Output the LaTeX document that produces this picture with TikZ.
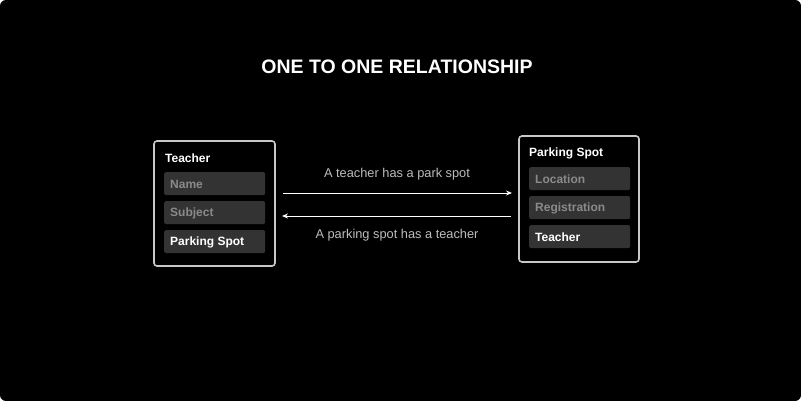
\documentclass[tikz,border=0pt]{standalone}
\usepackage{fontspec}
\setmainfont{Liberation Sans}
\usetikzlibrary{arrows.meta}
\definecolor{fieldbg}{HTML}{333333}
\definecolor{mutedtxt}{HTML}{8A8A8A}
\definecolor{boxline}{HTML}{C8C8C8}
\definecolor{labeltxt}{HTML}{BDBDBD}
\begin{document}
\begin{tikzpicture}[x=1pt,y=-1pt,
  entity/.style={draw=boxline, line width=1.6pt, rounded corners=3pt, fill=black},
  field/.style={fill=fieldbg, rounded corners=1.5pt, minimum width=101pt, minimum height=23pt, inner sep=0pt, anchor=north west},
  fieldtxt/.style={font=\fontsize{12}{14}\selectfont\bfseries, anchor=west, inner sep=0pt},
  header/.style={font=\fontsize{12}{14}\selectfont\bfseries, text=white, anchor=west, inner sep=0pt},
  rel/.style={draw=white, line width=0.9pt, -{Stealth[length=6pt,width=5pt]}},
  rellabel/.style={font=\fontsize{12.8}{15}\selectfont, text=labeltxt, inner sep=0pt}
]
\useasboundingbox (0,0) rectangle (801,401);
\fill[white] (0,0) rectangle (801,401);
\fill[black, rounded corners=6pt] (0,0) rectangle (801,401);

\node[font=\fontsize{19.5}{22}\selectfont\bfseries, text=white] (title) at (397,67) {ONE TO ONE RELATIONSHIP};

% Left entity: Teacher
\draw[entity] (154,141) rectangle (275,266);
\node[header] (th) at (165,158) {Teacher};
\node[field] (tf1) at (164,172) {};
\node[fieldtxt, text=mutedtxt] (tt1) at (170,184) {Name};
\node[field] (tf2) at (164,201) {};
\node[fieldtxt, text=mutedtxt] (tt2) at (170,213) {Subject};
\node[field] (tf3) at (164,230) {};
\node[fieldtxt, text=white] (tt3) at (170,242) {Parking Spot};

% Right entity: Parking Spot
\draw[entity] (519,136) rectangle (639,262);
\node[header] (ph) at (529,153) {Parking Spot};
\node[field] (pf1) at (529,167) {};
\node[fieldtxt, text=mutedtxt] (pt1) at (535,179) {Location};
\node[field] (pf2) at (529,196) {};
\node[fieldtxt, text=mutedtxt] (pt2) at (535,208) {Registration};
\node[field] (pf3) at (529,225) {};
\node[fieldtxt, text=white] (pt3) at (535,237) {Teacher};

% Connectors
\coordinate (a1s) at (283,193);
\coordinate (a1e) at (512,193);
\coordinate (a2s) at (511,216);
\coordinate (a2e) at (282,216);
\draw[rel] (a1s) -- (a1e);
\draw[rel] (a2s) -- (a2e);
\node[rellabel] (l1) at (397,174) {A teacher has a park spot};
\node[rellabel] (l2) at (397,235) {A parking spot has a teacher};
\end{tikzpicture}
\end{document}
